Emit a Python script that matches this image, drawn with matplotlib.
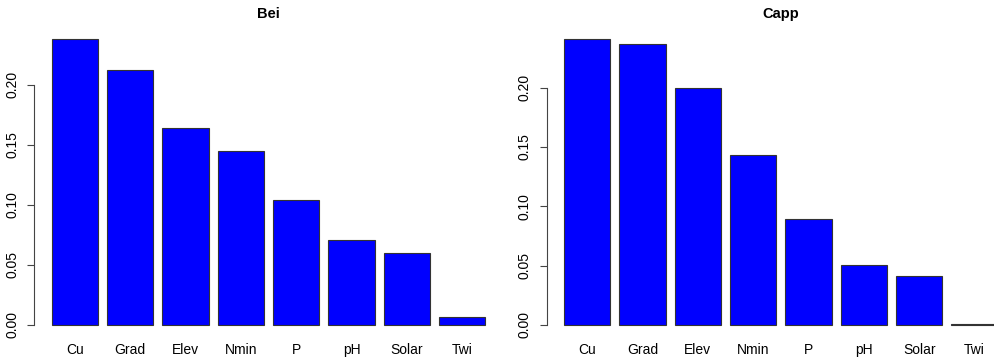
import matplotlib.pyplot as plt
import numpy as np

plt.rcParams['font.family'] = ['Liberation Sans', 'DejaVu Sans']

variables = ["Cu", "Grad", "Elev", "Nmin", "P", "pH", "Solar", "Twi"]
bei = [0.2379, 0.2125, 0.1640, 0.1453, 0.1040, 0.0706, 0.0603, 0.0067]
capp = [0.2407, 0.2365, 0.1994, 0.1433, 0.0890, 0.0503, 0.0413, 0.0006]
yticks = [0.00, 0.05, 0.10, 0.15, 0.20]

W, H = 994, 364
fig = plt.figure(figsize=(W / 100, H / 100), dpi=100)

# bars of width 1 with 0.2 spacing, like R's barplot
pos = 0.2 + 1.2 * np.arange(len(variables)) + 0.5
xlim = (0.2 - 0.376, 9.6 + 0.376)


def panel(left_px, values, title):
    ax = fig.add_axes([left_px / W, (H - 336.4) / H, 468.2 / W, 308.4 / H])
    top = max(values)
    ax.bar(pos, values, width=1.0, color="#0000ff", edgecolor="#333333", linewidth=0.8)
    ax.set_xlim(*xlim)
    ax.set_ylim(-0.04 * top, 1.04 * top)
    ax.set_yticks(yticks)
    ax.set_yticklabels([f"{t:.2f}" for t in yticks], rotation=90, va="center", fontsize=10)
    ax.set_xticks(pos)
    ax.set_xticklabels(variables, fontsize=10)
    ax.tick_params(axis="x", length=0, pad=5)
    ax.tick_params(axis="y", length=5, width=0.8, pad=6, color="#444444")
    for s in ["top", "right", "bottom"]:
        ax.spines[s].set_visible(False)
    ax.spines["left"].set_bounds(0, 0.2)
    ax.spines["left"].set_color("#444444")
    ax.spines["left"].set_linewidth(0.8)
    ax.set_title(title, fontsize=10.5, fontweight="bold", pad=7.5)
    return ax


panel(34.4, bei, "Bei")
panel(546.7, capp, "Capp")

fig.savefig("out.png", dpi=100)
